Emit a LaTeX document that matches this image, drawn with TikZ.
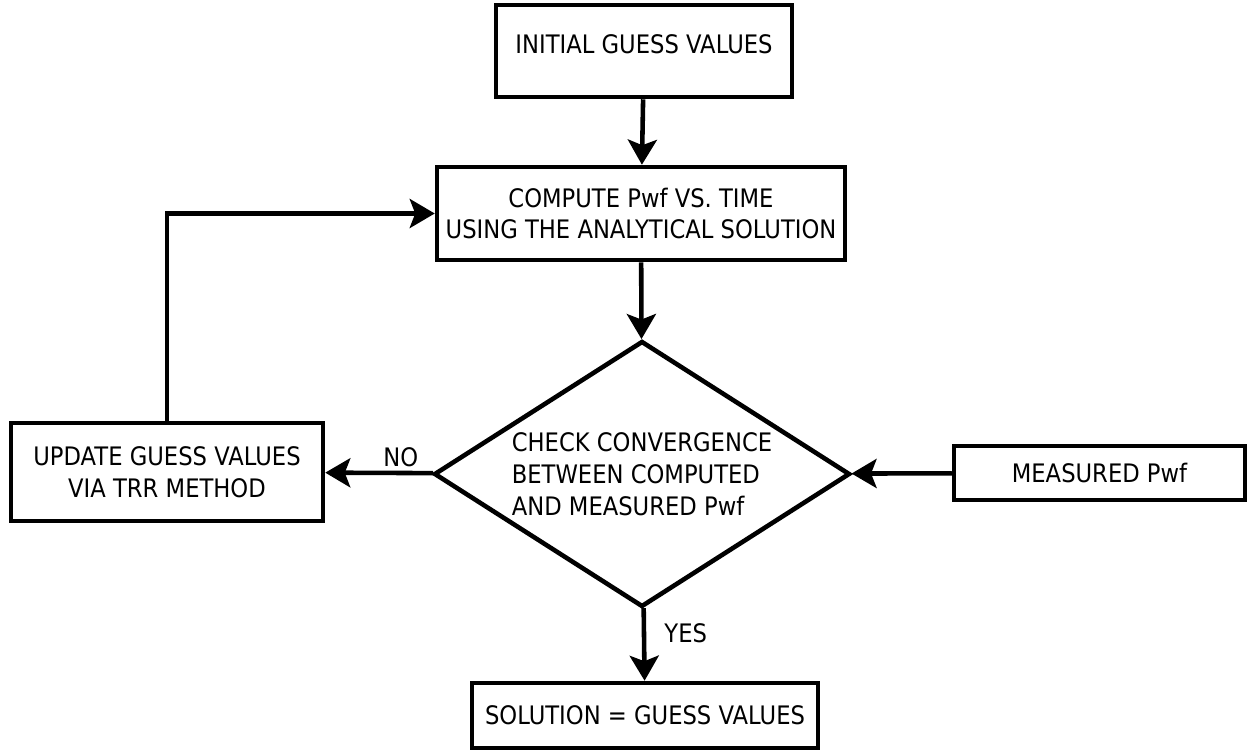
\documentclass[tikz,border=0pt]{standalone}
\usepackage{fontspec}
\setmainfont{DejaVu Sans}[FakeStretch=0.89]
\usepackage{tikz}
\usetikzlibrary{arrows.meta,shapes.geometric}

\tikzset{
  box/.style={draw,line width=2.6pt,rectangle,align=center,inner sep=0pt,
    font=\fontsize{14.5}{18.2}\selectfont},
  decision/.style={draw,line width=2.6pt,diamond,aspect=1.56,align=left,inner sep=0pt,
    minimum width=8.32cm,minimum height=5.32cm,font=\fontsize{14.5}{18.2}\selectfont},
  flow/.style={line width=2.6pt,-{Stealth[length=0.5cm,width=0.58cm,inset=0.11cm]}},
  tag/.style={font=\fontsize{14.5}{18.2}\selectfont}
}

\begin{document}
\begin{tikzpicture}[x=0.02cm,y=-0.02cm]
\useasboundingbox (0,0) rectangle (1248,753);
\node[box,minimum width=5.92cm,minimum height=1.84cm,text height=10.5pt,text depth=8pt] (init) at (644,51) {INITIAL GUESS VALUES};
\node[box,minimum width=8.16cm,minimum height=1.86cm] (comp) at (641,213.5) {COMPUTE Pwf VS. TIME\\USING THE ANALYTICAL SOLUTION};
\node[decision] (check) at (642,474) {CHECK CONVERGENCE\\BETWEEN COMPUTED\\AND MEASURED Pwf};
\node[box,minimum width=5.82cm,minimum height=1.08cm] (meas) at (1099.5,473) {MEASURED Pwf};
\node[box,minimum width=6.24cm,minimum height=1.96cm] (upd) at (167,472) {UPDATE GUESS VALUES\\VIA TRR METHOD};
\node[box,minimum width=6.92cm,minimum height=1.30cm] (sol) at (645,715.5) {SOLUTION = GUESS VALUES};
\draw[flow] (init) -- (comp);
\draw[flow] (comp) -- (check);
\draw[flow] (meas) -- (check);
\draw[flow] (check) -- node[tag,pos=0.3,above=-1pt] (no) {NO} (upd);
\draw[flow] (check) -- node[tag,pos=0.35,right=7pt] (yes) {YES} (sol);
\draw[flow] (upd.north) |- (comp.west);
\end{tikzpicture}
\end{document}
